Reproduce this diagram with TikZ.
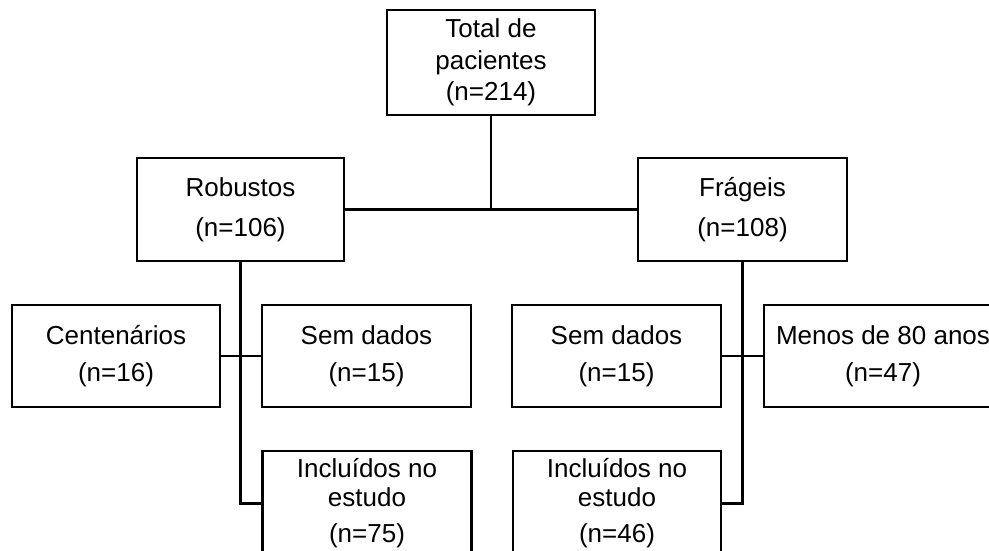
\documentclass[tikz,border=0pt]{standalone}
\usepackage{fontspec}
\setmainfont{Liberation Sans}
\begin{document}
\begin{tikzpicture}[x=1pt,y=-1pt,
  box/.style={draw, line width=2.5pt, minimum width=208pt, minimum height=103pt,
    inner sep=0pt, align=center, font=\fontsize{26}{30}\selectfont},
  conn/.style={line width=2.3pt}]
\path[use as bounding box] (0,0) rectangle (989,551);
\clip (0,0) rectangle (989,551);
\node[box, minimum height=105pt] (total) at (491,62.5) {Total de\\[1.5pt]pacientes\\[1pt](n=214)};
\node[box, minimum width=207pt] (rob) at (240.5,209.5) {Robustos\\[10pt](n=106)};
\node[box, minimum width=209pt] (frag) at (742.5,209.5) {Frágeis\\[10pt](n=108)};
\node[box, minimum height=102pt] (cent) at (116,356) {Centenários\\[7pt](n=16)};
\node[box, minimum height=102pt, minimum width=209pt] (semL) at (366.5,356) {Sem dados\\[7pt](n=15)};
\node[box, minimum height=102pt, minimum width=209pt] (semR) at (616.5,356) {Sem dados\\[7pt](n=15)};
\node[box, minimum height=102pt, minimum width=238pt] (menos) at (883,356) {Menos de 80 anos\\[7pt](n=47)};
\node[box, minimum height=105pt, minimum width=209pt] (incL) at (367,503.5) {Incluídos no\\[-1pt]estudo\\[6pt](n=75)};
\node[box, minimum height=105pt, minimum width=208pt] (incR) at (617,503.5) {Incluídos no\\[-1pt]estudo\\[6pt](n=46)};
\draw[conn] (total.south) -- (total.south |- rob.east);
\draw[conn] (rob.east) -- (frag.west);
\draw[conn] (rob.south) -- (rob.south |- incL.west) -- (incL.west);
\draw[conn] (cent.east) -- (semL.west);
\draw[conn] (frag.south) -- (frag.south |- incR.east) -- (incR.east);
\draw[conn] (semR.east) -- (menos.west);
\end{tikzpicture}
\end{document}
